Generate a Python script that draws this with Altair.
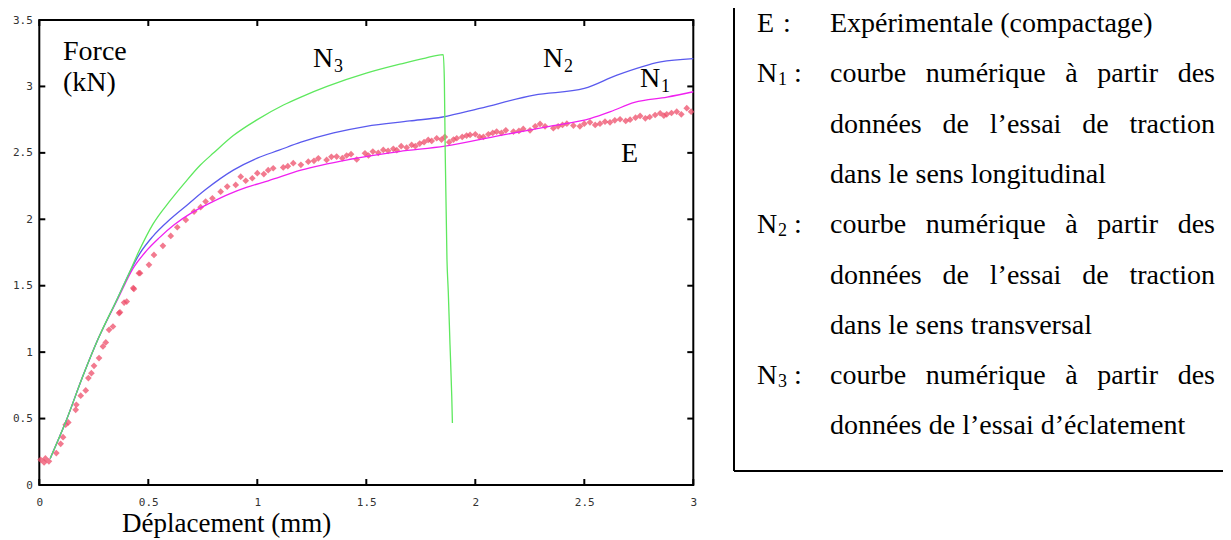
import altair as alt
import pandas as pd

# ---------------- data ----------------
x_ticks = [0, 0.5, 1, 1.5, 2, 2.5, 3]
y_ticks = [0, 0.5, 1, 1.5, 2, 2.5, 3, 3.5]

# E : experimental points
e_x = [0.006, 0.022, 0.028, 0.044, 0.078, 0.098, 0.109, 0.121, 0.133, 0.167, 0.17, 0.19, 0.213, 0.225,
       0.239, 0.251, 0.274, 0.292, 0.305, 0.32, 0.338, 0.366, 0.37, 0.389, 0.401, 0.431, 0.434, 0.457,
       0.462, 0.503, 0.526, 0.567, 0.603, 0.633, 0.672, 0.71, 0.74, 0.763, 0.794, 0.832, 0.862, 0.901,
       0.924, 0.947, 0.977, 1.0, 1.03, 1.05, 1.073, 1.119, 1.14, 1.165, 1.2, 1.234, 1.26, 1.28, 1.318,
       1.34, 1.364, 1.39, 1.41, 1.43, 1.456, 1.494, 1.51, 1.53, 1.555, 1.578, 1.6, 1.624, 1.64, 1.66,
       1.685, 1.708, 1.725, 1.745, 1.765, 1.784, 1.8, 1.823, 1.845, 1.86, 1.88, 1.9, 1.915, 1.94, 1.96,
       1.976, 2.0, 2.02, 2.037, 2.06, 2.08, 2.098, 2.12, 2.14, 2.175, 2.2, 2.22, 2.251, 2.275, 2.297,
       2.32, 2.358, 2.38, 2.4, 2.42, 2.45, 2.48, 2.5, 2.526, 2.55, 2.572, 2.595, 2.618, 2.64, 2.664,
       2.69, 2.71, 2.735, 2.756, 2.78, 2.8, 2.825, 2.848, 2.865, 2.878, 2.9, 2.924, 2.945, 2.97, 2.99]
e_y = [0.19, 0.17, 0.2, 0.178, 0.24, 0.31, 0.36, 0.454, 0.471, 0.566, 0.604, 0.672, 0.712, 0.805,
       0.842, 0.897, 0.955, 1.043, 1.073, 1.168, 1.193, 1.294, 1.3, 1.373, 1.381, 1.482, 1.476, 1.594,
       1.594, 1.657, 1.732, 1.8, 1.875, 1.94, 1.995, 2.058, 2.091, 2.133, 2.158, 2.208, 2.246, 2.259,
       2.321, 2.29, 2.309, 2.347, 2.34, 2.37, 2.384, 2.39, 2.4, 2.422, 2.41, 2.434, 2.44, 2.459, 2.447,
       2.47, 2.472, 2.46, 2.48, 2.49, 2.45, 2.497, 2.48, 2.51, 2.5, 2.522, 2.515, 2.53, 2.52, 2.55,
       2.54, 2.56, 2.55, 2.57, 2.58, 2.597, 2.59, 2.61, 2.6, 2.62, 2.58, 2.6, 2.61, 2.62, 2.63,
       2.635, 2.64, 2.62, 2.62, 2.64, 2.65, 2.66, 2.65, 2.67, 2.66, 2.665, 2.68, 2.67, 2.7, 2.718,
       2.7, 2.686, 2.7, 2.71, 2.72, 2.705, 2.7, 2.72, 2.73, 2.71, 2.72, 2.735, 2.73, 2.745, 2.753,
       2.74, 2.75, 2.765, 2.778, 2.76, 2.77, 2.785, 2.798, 2.78, 2.79, 2.8, 2.81, 2.79, 2.836, 2.81]

# N1 : traction, longitudinal
n1_x = [0.05, 0.12, 0.20, 0.27, 0.36, 0.43, 0.49, 0.55, 0.62, 0.70, 0.78, 0.87, 0.95, 1.05, 1.20,
        1.42, 1.65, 1.86, 2.11, 2.34, 2.53, 2.62, 2.73, 2.88, 3.0]
n1_y = [0.20, 0.47, 0.82, 1.10, 1.40, 1.63, 1.76, 1.86, 1.96, 2.05, 2.12, 2.19, 2.24, 2.29, 2.37,
        2.45, 2.51, 2.55, 2.63, 2.70, 2.76, 2.81, 2.88, 2.92, 2.96]

# N2 : traction, transversal
n2_x = [0.05, 0.12, 0.20, 0.27, 0.36, 0.42, 0.46, 0.52, 0.60, 0.68, 0.76, 0.89, 1.0, 1.1, 1.2,
        1.35, 1.5, 1.7, 1.85, 2.02, 2.27, 2.50, 2.65, 2.85, 3.0]
n2_y = [0.20, 0.47, 0.82, 1.10, 1.41, 1.62, 1.74, 1.87, 2.0, 2.11, 2.22, 2.37, 2.46, 2.52, 2.58,
        2.65, 2.70, 2.74, 2.77, 2.835, 2.935, 2.985, 3.085, 3.185, 3.21]

# N3 : eclatement
n3_x = [0.05, 0.12, 0.20, 0.27, 0.36, 0.40, 0.46, 0.52, 0.60, 0.67, 0.74, 0.80, 0.89, 1.0, 1.12,
        1.20, 1.32, 1.50, 1.66, 1.76, 1.853, 1.858, 1.862, 1.87, 1.876, 1.884, 1.892, 1.895]
n3_y = [0.20, 0.47, 0.82, 1.10, 1.41, 1.55, 1.77, 1.96, 2.14, 2.28, 2.41, 2.50, 2.63, 2.75, 2.86,
        2.92, 3.0, 3.10, 3.17, 3.21, 3.24, 3.05, 2.5, 1.7, 1.456, 1.055, 0.666, 0.466]

# texts
legend_keys = ["E", "N", None, None, "N", None, None, "N", None]
legend_subs = [None, "1", None, None, "2", None, None, "3", None]
legend_lines = [
    "Expérimentale (compactage)",
    "courbe numérique à partir des",
    "données de l’essai de traction",
    "dans le sens longitudinal",
    "courbe numérique à partir des",
    "données de l’essai de traction",
    "dans le sens transversal",
    "courbe numérique à partir des",
    "données de l’essai d’éclatement",
]
legend_justified = [False, True, True, False, True, True, False, True, False]

# ---------------- layout (page pixels) ----------------
OX, OY = 39.3, 20.0          # plot origin on the page
W, H = 654, 465
TICK = 6
SERIF = "Liberation Serif"
MONO = "DejaVu Sans Mono"
FS = 28
FSS = 18

TW = {'a': 444, 'b': 500, 'c': 444, 'd': 500, 'e': 444, 'f': 333, 'g': 500, 'h': 500, 'i': 278,
      'j': 278, 'k': 500, 'l': 278, 'm': 778, 'n': 500, 'o': 500, 'p': 500, 'q': 500, 'r': 333,
      's': 389, 't': 278, 'u': 500, 'v': 500, 'w': 722, 'x': 500, 'y': 500, 'z': 444, 'é': 444,
      'à': 444, '’': 333, '(': 333, ')': 333, ' ': 250, 'E': 611}


def tw(s, size):
    return sum(TW.get(c, 500) for c in s) * size / 1000.0


left_items, right_items, sub_items, title_items = [], [], [], []


def put(lst, t, ax, ay):
    lst.append({"t": t, "px": ax - OX, "py": ay - OY})


# labels inside the plot
put(left_items, "Force", 63, 60)
put(left_items, "(kN)", 63, 91)
put(title_items, "Déplacement (mm)", 122, 532)
put(left_items, "N", 313, 67)
put(sub_items, "3", 334, 72)
put(left_items, "N", 543, 67)
put(sub_items, "2", 564, 72)
put(left_items, "N", 640, 87)
put(sub_items, "1", 661, 92)
put(left_items, "E", 621, 162)

# legend
LX_KEY, LX0, LX1 = 757, 830, 1215
for i, line in enumerate(legend_lines):
    base = 32 + 50.3 * i
    k = legend_keys[i]
    if k == "E":
        put(left_items, "E", LX_KEY, base)
        put(left_items, ":", 783, base)
    elif k == "N":
        put(left_items, "N", LX_KEY, base)
        put(sub_items, legend_subs[i], 778, base + 3)
        put(left_items, ":", 794, base)
    if legend_justified[i]:
        words = line.split(" ")
        widths = [tw(w, FS) for w in words]
        gap = (LX1 - LX0 - sum(widths)) / (len(words) - 1)
        x = LX0
        for j, w in enumerate(words):
            if j == len(words) - 1:
                put(right_items, w, LX1, base)
            else:
                put(left_items, w, x, base)
            x += widths[j] + gap
    else:
        put(left_items, line, LX0, base)

# ---------------- chart ----------------
xs = alt.Scale(domain=[0, 3], nice=False, zero=False)
ys = alt.Scale(domain=[0, 3.5], nice=False, zero=False)


def lab_axis(orient, values, pad, base=None):
    kw = dict(values=values, format="~g", ticks=False, domain=False, grid=False, title=None,
              orient=orient, labelFont=MONO, labelFontSize=11, labelColor="#333333",
              labelPadding=pad, labelFlush=False, labelOverlap=False)
    if base:
        kw["labelBaseline"] = base
    return alt.Axis(**kw)


df_e = pd.DataFrame({"x": e_x, "y": e_y})
df_n1 = pd.DataFrame({"x": n1_x, "y": n1_y, "i": range(len(n1_x))})
df_n2 = pd.DataFrame({"x": n2_x, "y": n2_y, "i": range(len(n2_x))})
df_n3 = pd.DataFrame({"x": n3_x, "y": n3_y, "i": range(len(n3_x))})
df_xt = pd.DataFrame({"v": x_ticks})
df_yt = pd.DataFrame({"v": y_ticks})

pts = alt.Chart(df_e).mark_point(shape="diamond", filled=True, size=45, color="#ee4d6a",
                                 opacity=0.75).encode(
    x=alt.X("x:Q", scale=xs, axis=lab_axis("bottom", x_ticks, 17, "middle")),
    y=alt.Y("y:Q", scale=ys, axis=lab_axis("left", y_ticks, 7)),
)


def curve(df, color):
    return alt.Chart(df).mark_line(color=color, strokeWidth=1.3, interpolate="monotone").encode(
        x=alt.X("x:Q", scale=xs, axis=None),
        y=alt.Y("y:Q", scale=ys, axis=None),
        order="i:Q",
    )


l1 = curve(df_n1, "#f020f0")
l2 = curve(df_n2, "#5a5aee")
l3 = curve(df_n3, "#5ee85e")

# inward ticks on all four sides (positions from the scales)
tick_style = dict(color="black", strokeWidth=2)
t_bottom = alt.Chart(df_xt).mark_rule(**tick_style).encode(
    x=alt.X("v:Q", scale=xs, axis=None), y=alt.value(H), y2=alt.value(H - TICK))
t_top = alt.Chart(df_xt).mark_rule(**tick_style).encode(
    x=alt.X("v:Q", scale=xs, axis=None), y=alt.value(0), y2=alt.value(TICK))
t_left = alt.Chart(df_yt).mark_rule(**tick_style).encode(
    y=alt.Y("v:Q", scale=ys, axis=None), x=alt.value(0), x2=alt.value(TICK))
t_right = alt.Chart(df_yt).mark_rule(**tick_style).encode(
    y=alt.Y("v:Q", scale=ys, axis=None), x=alt.value(W), x2=alt.value(W - TICK))


def text_layer(items, size, align):
    return alt.Chart(pd.DataFrame(items)).mark_text(
        font=SERIF, fontSize=size, align=align, baseline="alphabetic", color="black"
    ).encode(
        x=alt.X("px:Q", scale=None, axis=None),
        y=alt.Y("py:Q", scale=None, axis=None),
        text="t:N",
    )


tx_left = text_layer(left_items, FS, "left")
tx_right = text_layer(right_items, FS, "right")
tx_sub = text_layer(sub_items, FSS, "left")
tx_title = text_layer(title_items, 27, "left")

box_left = alt.Chart(pd.DataFrame({"a": [0]})).mark_rule(color="black", strokeWidth=2).encode(
    x=alt.value(734 - OX), y=alt.value(-OY), y2=alt.value(471 - OY))
box_bottom = alt.Chart(pd.DataFrame({"a": [0]})).mark_rule(color="black", strokeWidth=2).encode(
    x=alt.value(734 - OX), x2=alt.value(1231 - OX), y=alt.value(471 - OY))

chart = alt.layer(
    pts, l1, l2, l3, t_bottom, t_top, t_left, t_right,
    tx_left, tx_right, tx_sub, tx_title, box_left, box_bottom
).resolve_axis(x="independent", y="independent").properties(
    width=W, height=H,
    autosize=alt.AutoSizeParams(type="none"),
    padding={"left": OX - 8, "top": OY - 8, "right": 1223 - OX - W, "bottom": 540 - OY - H},
    background="white",
).configure_view(stroke="black", strokeWidth=2)

chart.save("out.html", embed_options={"renderer": "svg", "actions": False})
